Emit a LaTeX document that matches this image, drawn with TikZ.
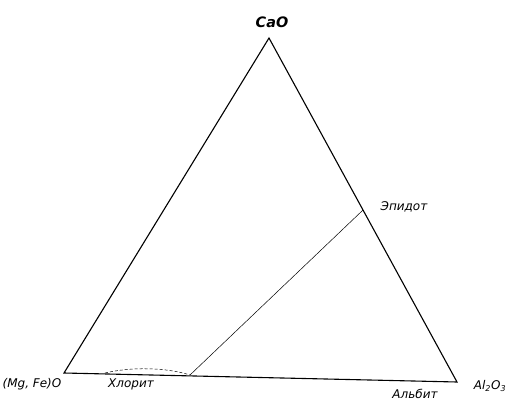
\documentclass[tikz,border=0pt]{standalone}
\usepackage{fontspec}
\setmainfont{DejaVu Sans}
\begin{document}
\begin{tikzpicture}[
        x=1pt, y=-1pt,
        every node/.style={font=\itshape\large},
        edge/.style={line width=1.1pt},
        tie/.style={line width=0.5pt}
    ]
    \useasboundingbox (0,0) rectangle (518,406);

    % =====================================================
    % Corners of the triangle
    % =====================================================
    \coordinate (cao) at (269,38);
    \coordinate (mgo) at (64,373);
    \coordinate (alo) at (457,382);

    \draw[edge] (mgo) -- (cao) -- (alo) -- cycle;

    % Epidote - chlorite tie line
    \coordinate (epi) at (363,210);
    \coordinate (chl) at (190,375);
    \coordinate (chs) at (105,373);

    \draw[tie] (epi) -- (chl);

    % Chlorite field
    \draw[tie, densely dashed]
        (chs) .. controls (130,367) and (165,367) .. (chl);

    % =====================================================
    % Labels
    % =====================================================
    \node[font=\bfseries\itshape\Large] (caolabel) at (272,22) {CaO};
    \node (epilabel) at (404,207) {Эпидот};
    \node (mgolabel) at (32,384) {(Mg, Fe)O};
    \node (chllabel) at (131,384) {Хлорит};
    \node (alblabel) at (415,394) {Альбит};
    \node (alolabel) at (490,386) {Al\textsubscript{2}O\textsubscript{3}};

\end{tikzpicture}
\end{document}
